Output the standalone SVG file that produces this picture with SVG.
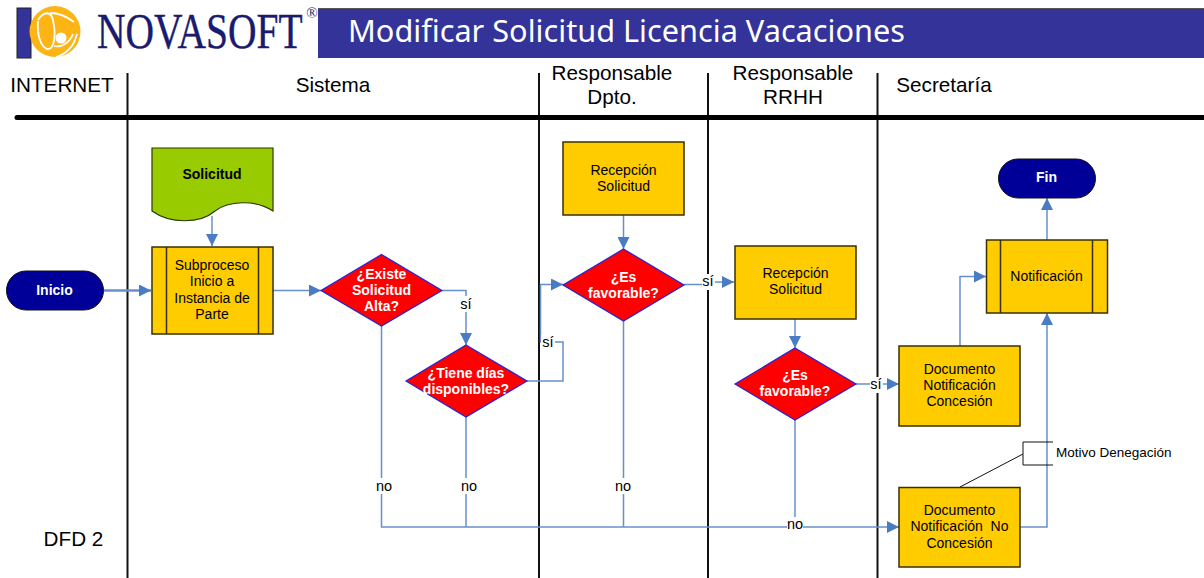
<svg xmlns="http://www.w3.org/2000/svg" width="1204" height="578" viewBox="0 0 1204 578">
<style>
text{font-family:"Liberation Sans",Arial,sans-serif;text-anchor:middle;fill:#000}
.lane{font-size:20.700px}
.p{font-size:14px}
.b{font-size:14px;font-weight:bold}
.w{fill:#fff}
.lbl{font-size:14.500px}
.box{fill:#ffcc00;stroke:#3a3000;stroke-width:1.5}
.inner{stroke:#3a3000;stroke-width:1.5;fill:none}
.dia{fill:#ff0000;stroke:#2222dd;stroke-width:1.2}
.term{fill:#000099;stroke:#111;stroke-width:1}
.sep{stroke:#111;stroke-width:2;fill:none}
.c{fill:none;stroke:#6690cc;stroke-width:1.5}
</style>
<defs>
<marker id="a" markerUnits="userSpaceOnUse" markerWidth="13" markerHeight="12" refX="12" refY="6" orient="auto"><path d="M0 0L12 6L0 12Z" fill="#4a7cc4"/></marker>
</defs>
<rect width="1204" height="578" fill="#fff"/>
<g id="header">
<rect x="17" y="8" width="14" height="50" fill="#333399" stroke="#222" stroke-width="1"/>
<rect x="318" y="8" width="886" height="50" fill="#333399"/>
<path d="M318 8.500H1204" stroke="#555" fill="none"/>
<circle cx="55" cy="31.500" r="25.500" fill="#fdb515"/>
<path d="M38 21C37 34 40 46 47 49C55 50 56 34 53 20C51 11 44 11 38 20M50 13C58 13 66 16 74 22M54 46C62 48 70 42 73 34M77 34C74 46 66 54 56 57" fill="none" stroke="#fff" stroke-width="1.800"/>
<circle cx="61" cy="38" r="5.500" fill="#fff"/>
<text transform="translate(97 48) scale(.79 1)" style="text-anchor:start;font-family:'Liberation Serif',serif;font-size:50px;fill:#1a1a6e;stroke:#1a1a6e;stroke-width:.4">NOVASOFT</text>
<text x="312" y="18" style="font-family:'Liberation Serif',serif;font-size:15px;fill:#1a1a6e">®</text>
<text x="348" y="42" textLength="557" lengthAdjust="spacingAndGlyphs" style="text-anchor:start;font-family:'Noto Sans',sans-serif;font-size:30px;fill:#fff">Modificar Solicitud Licencia Vacaciones</text>
</g>
<g id="lanes">
<path class="sep" d="M127.500 73V578M539 73V578M708 73V578M877.500 73V578"/>
<path d="M17 117.500H1204" stroke="#000" stroke-width="5" stroke-linecap="round" fill="none"/>
<text class="lane" x="62" y="92">INTERNET</text>
<text class="lane" x="333" y="92">Sistema</text>
<text class="lane" x="612" y="80">Responsable</text>
<text class="lane" x="612" y="104">Dpto.</text>
<text class="lane" x="793" y="80">Responsable</text>
<text class="lane" x="793" y="104">RRHH</text>
<text class="lane" x="944" y="92">Secretaría</text>
<text class="lane" x="73.500" y="546">DFD 2</text>
</g>
<g id="connectors">
<path class="c" d="M212 216V246" marker-end="url(#a)"/>
<path d="M104 290.500H151" fill="none" stroke="#6690cc" stroke-width="2.500" marker-end="url(#a)"/>
<path class="c" d="M273 290.500H321" marker-end="url(#a)"/>
<path class="c" d="M442 290.500H466V345" marker-end="url(#a)"/>
<path class="c" d="M527 381H563V342H540.500V284.500H563" marker-end="url(#a)"/>
<path class="c" d="M623.500 215V249" marker-end="url(#a)"/>
<path class="c" d="M684 284.500H712V282H734" marker-end="url(#a)"/>
<path class="c" d="M795 319V348" marker-end="url(#a)"/>
<path class="c" d="M856 384H899" marker-end="url(#a)"/>
<path class="c" d="M960 346V276.500H986" marker-end="url(#a)"/>
<path class="c" d="M1020 527H1047V313" marker-end="url(#a)"/>
<path class="c" d="M1047 240V198" marker-end="url(#a)"/>
<path class="c" d="M381.500 326V527H899" marker-end="url(#a)"/>
<path class="c" d="M466 417V527M623.500 321V527M795 420V527"/>
<path d="M960 487L1023 454" stroke="#111" fill="none"/>
<path d="M1053 442H1023V465H1053" stroke="#111" fill="none"/>
<g>
<rect x="458" y="296" width="16" height="16" fill="#fff"/><text class="lbl" x="466" y="309">sí</text>
<rect x="541" y="335" width="14" height="16" fill="#fff"/><text class="lbl" x="548" y="347">sí</text>
<rect x="702" y="274" width="13" height="16" fill="#fff"/><text class="lbl" x="708" y="286">sí</text>
<rect x="870" y="377" width="13" height="16" fill="#fff"/><text class="lbl" x="876" y="389">sí</text>
<rect x="374" y="478" width="20" height="16" fill="#fff"/><text class="lbl" x="384" y="491">no</text>
<rect x="460" y="478" width="18" height="16" fill="#fff"/><text class="lbl" x="469" y="491">no</text>
<rect x="614" y="478" width="18" height="16" fill="#fff"/><text class="lbl" x="623" y="491">no</text>
<rect x="787" y="517" width="16" height="16" fill="#fff"/><text class="lbl" x="795" y="529">no</text>
</g>
</g>
<g id="inicio"><rect class="term" x="6.500" y="271" width="97" height="39" rx="19.500"/><text class="b w" x="54.500" y="294.500">Inicio</text></g>
<g id="solicitud"><path d="M152 148H273V211C255 199 228 201 215 211C200 224 170 224 152 211Z" fill="#99cc00" stroke="#2a3a00" stroke-width="1.200"/><text class="b" x="212" y="179">Solicitud</text></g>
<g id="subproceso"><rect class="box" x="152" y="247" width="121" height="87"/><path class="inner" d="M166.500 247V334M258.500 247V334"/><text class="p" x="212" y="269.500">Subproceso</text><text class="p" x="212" y="286">Inicio a</text><text class="p" x="212" y="302.500">Instancia de</text><text class="p" x="212" y="319">Parte</text></g>
<g id="existe"><path class="dia" d="M381.500 254.500L442 290.500L381.500 326L321 290.500Z"/><text class="b w" x="381.500" y="278.500">¿Existe</text><text class="b w" x="381.500" y="294.500">Solicitud</text><text class="b w" x="381.500" y="310.500">Alta?</text></g>
<g id="tiene"><path class="dia" d="M466 345L527 381L466 417L406 381Z"/><text class="b w" x="466" y="377.500">¿Tiene días</text><text class="b w" x="466" y="393.500">disponibles?</text></g>
<g id="recepcion1"><rect class="box" x="563" y="142" width="121" height="73"/><text class="p" x="623.500" y="174.500">Recepción</text><text class="p" x="623.500" y="190.500">Solicitud</text></g>
<g id="favorable1"><path class="dia" d="M623.500 249L684 285L623.500 321L563 285Z"/><text class="b w" x="623.500" y="281.500">¿Es</text><text class="b w" x="623.500" y="297.500">favorable?</text></g>
<g id="recepcion2"><rect class="box" x="735" y="246" width="121" height="73"/><text class="p" x="795.500" y="278">Recepción</text><text class="p" x="795.500" y="294">Solicitud</text></g>
<g id="favorable2"><path class="dia" d="M795 348L856 384L795 420L735 384Z"/><text class="b w" x="795" y="380">¿Es</text><text class="b w" x="795" y="396">favorable?</text></g>
<g id="concesion"><rect class="box" x="899" y="346" width="121" height="80"/><text class="p" x="959.500" y="373.500">Documento</text><text class="p" x="959.500" y="389.500">Notificación</text><text class="p" x="959.500" y="405.500">Concesión</text></g>
<g id="noconcesion"><rect class="box" x="899" y="487.500" width="121" height="79.500"/><text class="p" x="959.500" y="514.500">Documento</text><text class="p" x="959.500" y="531" xml:space="preserve">Notificación  No</text><text class="p" x="959.500" y="547.500">Concesión</text></g>
<g id="notificacion"><rect class="box" x="986.500" y="240" width="121" height="73"/><path class="inner" d="M1000.500 240V313M1092.500 240V313"/><text class="p" x="1046.500" y="280.500">Notificación</text></g>
<g id="fin"><rect class="term" x="998.500" y="159" width="97" height="39" rx="19.500"/><text class="b w" x="1046.500" y="182">Fin</text></g>
<g id="motivo"><text style="font-size:13.500px;text-anchor:start" x="1056" y="457">Motivo Denegación</text></g>
</svg>
